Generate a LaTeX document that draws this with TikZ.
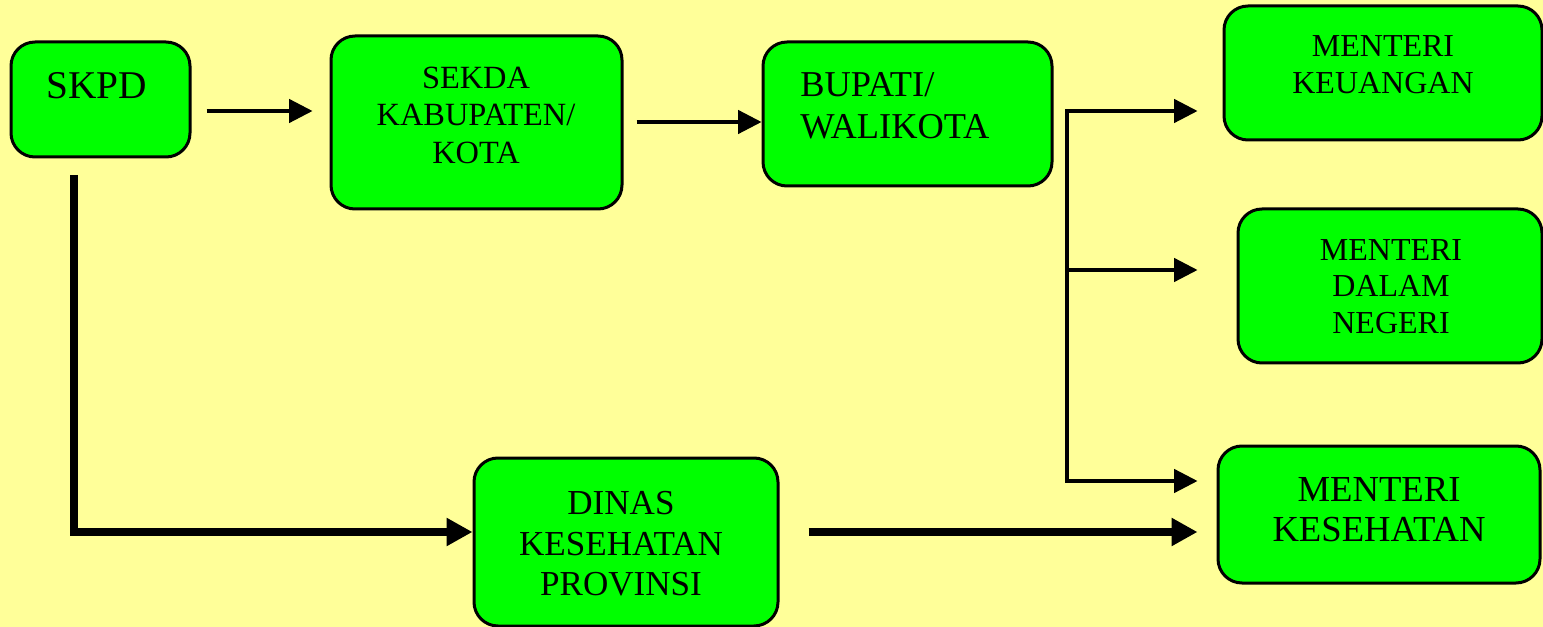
\documentclass[tikz,border=0pt]{standalone}
\usepackage{fontspec}
\setmainfont{Liberation Serif}
\usetikzlibrary{arrows.meta}
\definecolor{bgyellow}{HTML}{FFFF99}
\definecolor{boxgreen}{HTML}{00FF00}
\newcommand{\fsz}[2]{\fontsize{#1}{#2}\selectfont}
\tikzset{
  box/.style={draw,line width=2.25pt,fill=boxgreen,rounded corners=18pt,inner sep=0pt},
  lbl/.style={inner sep=0pt,align=center},
  thinarrow/.style={line width=2.4pt,-{Triangle[length=17.5pt,width=17.5pt]}},
  thickarrow/.style={line width=6.4pt,-{Triangle[length=19.5pt,width=20pt]}}
}
\begin{document}
\begin{tikzpicture}[x=0.75pt,y=-0.75pt]
   \fill[bgyellow] (0,0) rectangle (1543,627);
   \useasboundingbox (0,0) rectangle (1543,627);
        \node at (100.5,99.5) [box,minimum width=134.25pt,minimum height=86.25pt] (skpd) {};
        \node at (476.5,122.5) [box,minimum width=218.25pt,minimum height=129.75pt] (sekda) {};
        \node at (907.5,114) [box,minimum width=216.75pt,minimum height=108pt] (bupati) {};
        \node at (1383,73) [box,minimum width=238.5pt,minimum height=100.5pt] (keu) {};
        \node at (1390,286) [box,minimum width=228pt,minimum height=115.5pt] (dalam) {};
        \node at (1379,514.5) [box,minimum width=241.5pt,minimum height=102.75pt] (kes) {};
        \node at (626,542) [box,minimum width=228pt,minimum height=126pt] (dinas) {};
        \node at (97,86) [lbl,font=\fsz{29.5pt}{35pt}] (skpdtxt) {SKPD};
        \node at (476,115.2) [lbl,font=\fsz{24.3pt}{28.1pt}] (sekdatxt) {SEKDA\\KABUPATEN/\\KOTA};
        \node at (800,106) [lbl,align=left,anchor=west,font=\fsz{27.3pt}{31.5pt}] (bupatitxt) {BUPATI/\\WALIKOTA};
        \node at (1383,65) [lbl,font=\fsz{24pt}{27.75pt}] (keutxt) {MENTERI\\KEUANGAN};
        \node at (1391,286.3) [lbl,font=\fsz{24pt}{27.3pt}] (dalamtxt) {MENTERI\\DALAM\\NEGERI};
        \node at (1379,509.5) [lbl,font=\fsz{27.5pt}{30.3pt}] (kestxt) {MENTERI\\KESEHATAN};
        \node at (621,543.8) [lbl,font=\fsz{26.3pt}{30.3pt}] (dinastxt) {DINAS\\KESEHATAN\\PROVINSI};
        \coordinate (forktop) at (1067,111);
        \coordinate (forkmid) at (1067,270);
        \coordinate (forkbot) at (1067,481);
        \coordinate (skpdout) at (74,175);
        \draw[thinarrow,shorten <=11.25pt,shorten >=12.75pt] (skpd.east |- 0,111) -- (sekda.west |- 0,111);
        \draw[thinarrow,shorten <=9.75pt] (sekda.east |- 0,122) -- (bupati.west |- 0,122);
        \draw[line width=2.4pt,line cap=rect] (forktop) -- (forkbot);
        \draw[thinarrow,shorten >=18.75pt] (forktop) -- (forktop -| keu.west);
        \draw[thinarrow,shorten >=29.25pt] (forkmid) -- (forkmid -| dalam.west);
        \draw[thinarrow,shorten >=14.25pt] (forkbot) -- (forkbot -| kes.west);
        \draw[thickarrow] (skpdout) |- ([yshift=7.5pt]dinas.west);
        \draw[thickarrow,shorten <=21.75pt,shorten >=14.25pt] ([yshift=7.5pt]dinas.east) -- ([yshift=7.5pt]dinas.east -| kes.west);
    \end{tikzpicture}
\end{document}
